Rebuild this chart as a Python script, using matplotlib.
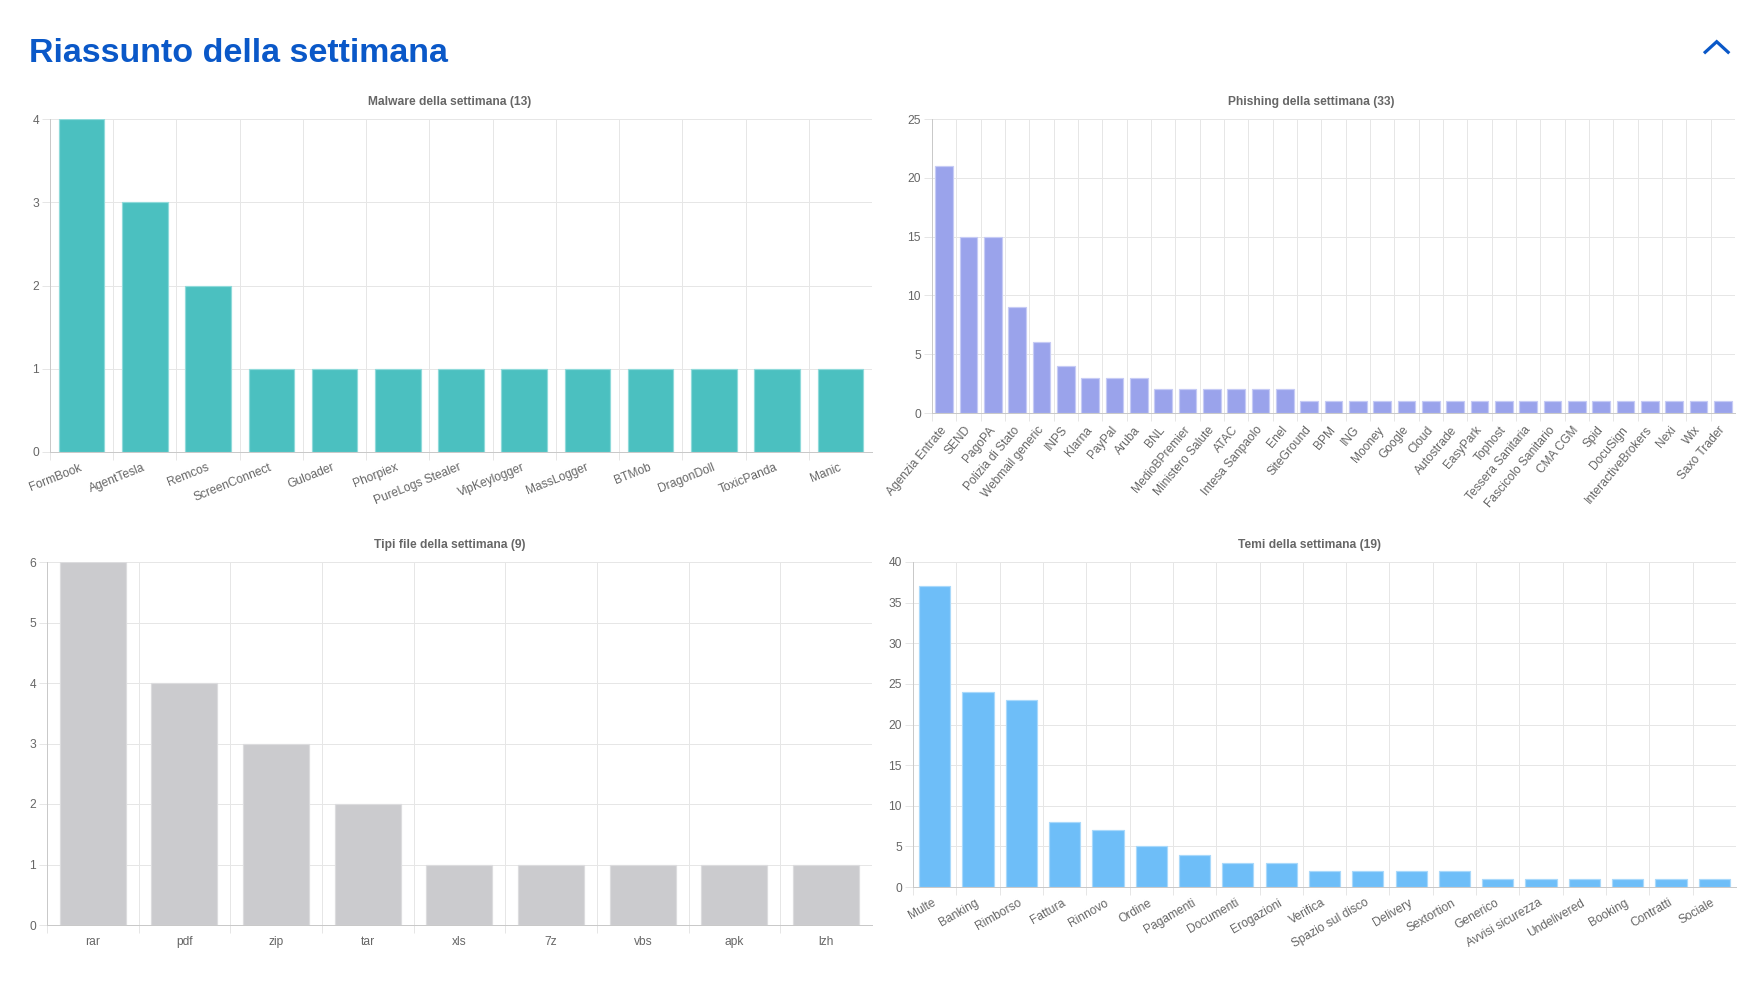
import numpy as np
import matplotlib
matplotlib.use("Agg")
import matplotlib.pyplot as plt
from matplotlib.lines import Line2D
from matplotlib.ticker import FixedLocator

# ---------------- data ----------------
malware_labels = ["FormBook", "AgentTesla", "Remcos", "ScreenConnect", "Guloader", "Phorpiex",
                  "PureLogs Stealer", "VipKeylogger", "MassLogger", "BTMob", "DragonDoll",
                  "ToxicPanda", "Manic"]
malware_values = [4, 3, 2, 1, 1, 1, 1, 1, 1, 1, 1, 1, 1]

phishing_labels = ["Agenzia Entrate", "SEND", "PagoPA", "Polizia di Stato", "Webmail generic",
                   "INPS", "Klarna", "PayPal", "Aruba", "BNL", "MedioBPremier", "Ministero Salute",
                   "ATAC", "Intesa Sanpaolo", "Enel", "SiteGround", "BPM", "ING", "Mooney", "Google",
                   "Cloud", "Autostrade", "EasyPark", "Tophost", "Tessera Sanitaria",
                   "Fascicolo Sanitario", "CMA CGM", "Spid", "DocuSign", "InteractiveBrokers",
                   "Nexi", "Wix", "Saxo Trader"]
phishing_values = [21, 15, 15, 9, 6, 4, 3, 3, 3, 2, 2, 2, 2, 2, 2,
                   1, 1, 1, 1, 1, 1, 1, 1, 1, 1, 1, 1, 1, 1, 1, 1, 1, 1]

filetype_labels = ["rar", "pdf", "zip", "tar", "xls", "7z", "vbs", "apk", "lzh"]
filetype_values = [6, 4, 3, 2, 1, 1, 1, 1, 1]

temi_labels = ["Multe", "Banking", "Rimborso", "Fattura", "Rinnovo", "Ordine", "Pagamenti",
               "Documenti", "Erogazioni", "Verifica", "Spazio sul disco", "Delivery",
               "Sextortion", "Generico", "Avvisi sicurezza", "Undelivered", "Booking",
               "Contratti", "Sociale"]
temi_values = [37, 24, 23, 8, 7, 5, 4, 3, 3, 2, 2, 2, 2, 1, 1, 1, 1, 1, 1]

main_title = "Riassunto della settimana"
titles = ["Malware della settimana (13)", "Phishing della settimana (33)",
          "Tipi file della settimana (9)", "Temi della settimana (19)"]

# ---------------- style ----------------
W, H = 1756, 982
DPI = 100
PX = 72.0 / DPI  # points per pixel
FONT = ["Liberation Sans", "DejaVu Sans"]
plt.rcParams["font.family"] = FONT

GRID = "#e6e6e6"
SPINE = "#c9c9c9"
TXT = "#666666"
BLUE = "#0a58c8"

fig = plt.figure(figsize=(W / DPI, H / DPI), dpi=DPI)
fig.patch.set_facecolor("white")


def add_ax(x0, y0, x1, y1):
    return fig.add_axes([x0 / W, 1 - y1 / H, (x1 - x0) / W, (y1 - y0) / H])


def bar_panel(ax, labels, values, ymax, ystep, color, edge, rot):
    n = len(labels)
    x = np.arange(n)
    ax.bar(x, values, width=0.72, color=color, edgecolor=edge, linewidth=1.2 * PX, zorder=3)
    ax.set_xlim(-0.5, n - 0.5)
    ax.set_ylim(0, ymax)
    ticks = np.arange(0, ymax + 0.001, ystep)
    ax.set_yticks(ticks)
    ax.set_yticklabels([str(int(v)) for v in ticks])
    ax.set_xticks(x)
    ax.xaxis.set_minor_locator(FixedLocator(list(np.arange(n) - 0.5)))
    if rot:
        ax.set_xticklabels(labels, rotation=rot, ha="right", va="center",
                           rotation_mode="anchor")
        ax.tick_params(axis="x", which="major", length=0, pad=15 * PX)
    else:
        ax.set_xticklabels(labels)
        ax.tick_params(axis="x", which="major", length=0, pad=11 * PX)
    ax.tick_params(axis="x", which="minor", length=8 * PX, width=1 * PX, color=GRID)
    ax.tick_params(axis="y", which="major", length=8 * PX, width=1 * PX, color=GRID,
                   pad=3 * PX)
    ax.tick_params(axis="both", labelsize=12 * PX, labelcolor=TXT)
    ax.grid(which="minor", axis="x", color=GRID, linewidth=1 * PX, zorder=0)
    ax.grid(which="major", axis="y", color=GRID, linewidth=1 * PX, zorder=0)
    ax.grid(which="major", axis="x", visible=False)
    ax.set_axisbelow(True)
    for s in ["top", "right"]:
        ax.spines[s].set_visible(False)
    for s in ["left", "bottom"]:
        ax.spines[s].set_color(SPINE)
        ax.spines[s].set_linewidth(1 * PX)
    ax.set_facecolor("white")


ax1 = add_ax(50, 119, 872, 452)
bar_panel(ax1, malware_labels, malware_values, 4, 1, "#4bc0c0", "#8fdada", 22)

ax2 = add_ax(932, 119, 1735, 413)
bar_panel(ax2, phishing_labels, phishing_values, 25, 5, "#9aa3eb", "#c6cbf5", 50)

ax3 = add_ax(47, 562, 872, 925)
bar_panel(ax3, filetype_labels, filetype_values, 6, 1, "#cbcbce", "#dcdcde", 0)

ax4 = add_ax(913, 562, 1736, 887)
bar_panel(ax4, temi_labels, temi_values, 40, 5, "#6ebef8", "#a9d9fb", 30)

# subtitles
sub_pos = [(450, 102), (1311, 102), (450, 545), (1310, 545)]
for t, (px, py) in zip(titles, sub_pos):
    fig.text(px / W, 1 - py / H, t, ha="center", va="center", fontsize=12 * PX,
             fontweight="bold", color=TXT)

# main title
fig.text(29 / W, 1 - 62 / H, main_title, ha="left", va="baseline",
         fontsize=34 * PX, fontweight="bold", color=BLUE,
         family=["Liberation Sans Narrow", "Liberation Sans", "DejaVu Sans"])

# collapse chevron
fig.add_artist(Line2D([1704 / W, 1716.7 / W, 1729.3 / W],
                      [1 - 53.3 / H, 1 - 41.7 / H, 1 - 53.3 / H],
                      transform=fig.transFigure, color=BLUE, linewidth=3.2 * PX,
                      solid_joinstyle="miter", solid_capstyle="butt"))

fig.savefig("out.png", dpi=DPI, facecolor="white")
